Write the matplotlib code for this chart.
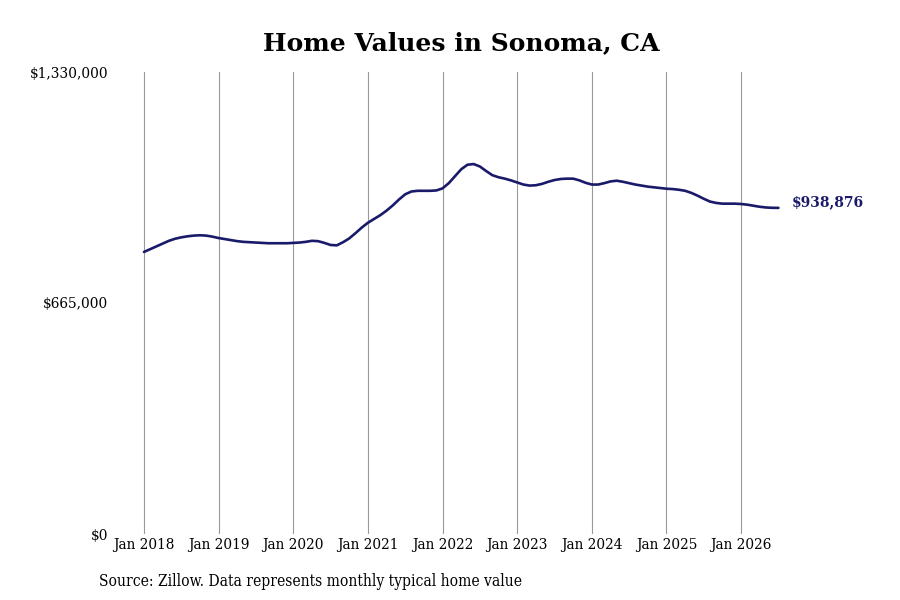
import matplotlib.pyplot as plt
from matplotlib.ticker import FuncFormatter

# typical home value, monthly, Jan 2018 .. Jul 2026 (thousands of $)
values_2018 = [812, 820, 828, 836, 844, 850, 854, 857, 859, 860, 859, 856]
values_2019 = [852, 849, 846, 843, 841, 840, 839, 838, 837, 837, 837, 837]
values_2020 = [838, 839, 841, 844, 843, 838, 832, 831, 840, 851, 866, 882]
values_2021 = [896, 907, 918, 931, 946, 963, 978, 986, 988, 988, 988, 989]
values_2022 = [995, 1010, 1030, 1050, 1063, 1065, 1058, 1045, 1033, 1027, 1023, 1018]
values_2023 = [1012, 1006, 1003, 1004, 1008, 1014, 1019, 1022, 1023, 1023, 1018, 1011]
values_2024 = [1006, 1006, 1010, 1015, 1017, 1014, 1010, 1006, 1003, 1000, 998, 996]
values_2025 = [994, 993, 991, 988, 982, 974, 965, 957, 953, 951, 951, 951]
values_2026 = [950, 948, 945, 942, 940, 939, 938.876]

tick_labels = ["Jan 2018", "Jan 2019", "Jan 2020", "Jan 2021", "Jan 2022",
               "Jan 2023", "Jan 2024", "Jan 2025", "Jan 2026"]
y_ticks = [0, 665000, 1330000]

values = [v * 1000 for v in (values_2018 + values_2019 + values_2020 + values_2021
                             + values_2022 + values_2023 + values_2024 + values_2025
                             + values_2026)]
months = list(range(len(values)))

plt.rcParams["font.family"] = "DejaVu Serif"
NAVY = "#1a1a6a"

fig = plt.figure(figsize=(9, 6), dpi=100)
ax = fig.add_axes([112 / 900, 66 / 600, 700 / 900, 462 / 600])

ax.plot(months, values, color=NAVY, linewidth=1.9, solid_capstyle="round")
ax.text(months[-1] + 2.2, values[-1] + 15000, f"${values[-1]:,.0f}",
        color=NAVY, fontsize=10, fontweight="bold", va="center", ha="left")

ax.set_xlim(-32 / 6.22, -32 / 6.22 + 700 / 6.22)
ax.set_ylim(0, 1330000)
ax.set_xticks([12 * i for i in range(len(tick_labels))])
ax.set_xticklabels(tick_labels, fontsize=11, fontstretch="condensed")
ax.set_yticks(y_ticks)
ax.yaxis.set_major_formatter(FuncFormatter(lambda v, p: f"${v:,.0f}"))
for lab in ax.get_yticklabels():
    lab.set_fontsize(11)
    lab.set_fontstretch("condensed")
ax.tick_params(length=0)
ax.tick_params(axis="y", pad=2.5)
ax.tick_params(axis="x", pad=3)
ax.grid(axis="x", color="#999999", linewidth=0.8)
for s in ax.spines.values():
    s.set_visible(False)

fig.text(461 / 900, 0.928, "Home Values in Sonoma, CA", ha="center", va="center",
         fontsize=18, fontweight="bold")
fig.text(99 / 900, 0.031, "Source: Zillow. Data represents monthly typical home value",
         ha="left", va="center", fontsize=11.2, fontstretch="condensed")

fig.savefig("out.png", dpi=100)
